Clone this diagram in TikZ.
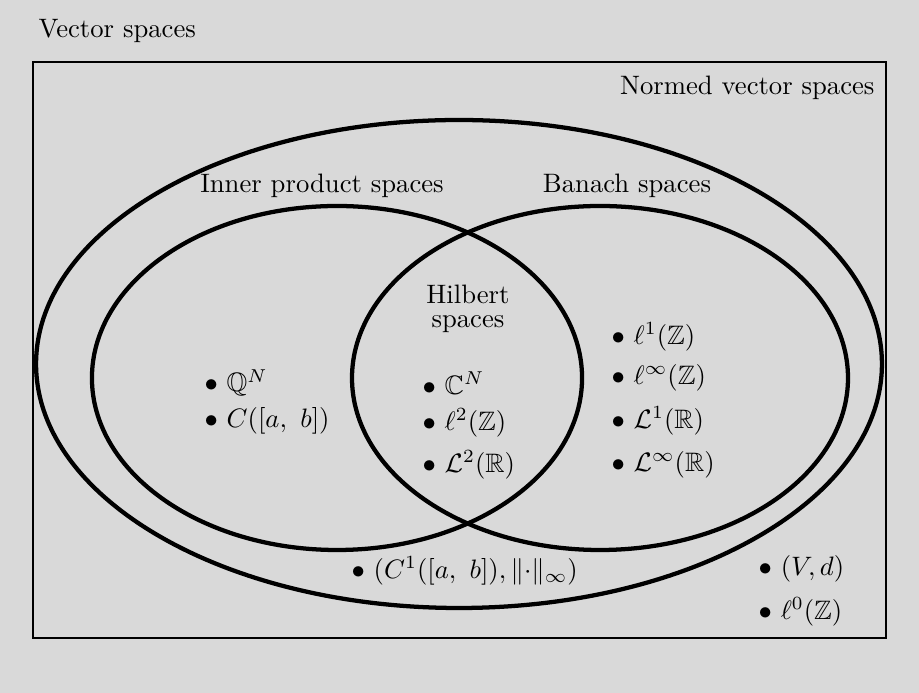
\documentclass[tikz,border=0pt]{standalone}
\usepackage{amssymb}
\definecolor{bggray}{HTML}{D9D9D9}
\begin{document}
\begin{tikzpicture}[x=0.375pt,y=-0.375pt,
  set/.style={line width=1.6pt},
  lab/.style={inner sep=0pt},
  item/.style={anchor=west,inner sep=0pt}]
\fill[bggray] (0,0) rectangle (919,693);
\useasboundingbox (0,0) rectangle (919,693);
% outer rectangle
\draw[line width=0.8pt] (33,62) rectangle (886,638);
% ellipses
\draw[set] (459,364) ellipse [x radius=158.6pt, y radius=91.5pt];
\draw[set] (337,378) ellipse [x radius=91.9pt, y radius=64.5pt];
\draw[set] (600,378) ellipse [x radius=93pt, y radius=64.5pt];
% labels
\node[lab,anchor=west] (vs) at (38,31) {Vector spaces};
\node[lab,anchor=east] (nvs) at (875,88) {Normed vector spaces};
\node[lab] (ips) at (322,186) {Inner product spaces};
\node[lab] (bs) at (627,186) {Banach spaces};
\node[lab,align=center] (hs) at (468,309) {Hilbert\\[-3pt]spaces};
% items
\node[item] (q) at (204,383) {$\bullet\ \mathbb{Q}^N$};
\node[item] (c) at (204,421) {$\bullet\ C([a,\ b])$};
\node[item] (cn) at (422,383) {$\bullet\ \mathbb{C}^N$};
\node[item] (l2) at (422,423) {$\bullet\ \ell^2(\mathbb{Z})$};
\node[item] (L2) at (422,465) {$\bullet\ \mathcal{L}^2(\mathbb{R})$};
\node[item] (l1) at (611,337) {$\bullet\ \ell^1(\mathbb{Z})$};
\node[item] (linf) at (611,378) {$\bullet\ \ell^\infty(\mathbb{Z})$};
\node[item] (L1) at (611,421) {$\bullet\ \mathcal{L}^1(\mathbb{R})$};
\node[item] (Linf) at (611,465) {$\bullet\ \mathcal{L}^\infty(\mathbb{R})$};
\node[item] (c1) at (351,571) {$\bullet\ (C^1([a,\ b]), \|{\cdot}\|_\infty)$};
\node[item] (vd) at (758,569) {$\bullet\ (V, d)$};
\node[item] (l0) at (758,612) {$\bullet\ \ell^0(\mathbb{Z})$};
\end{tikzpicture}
\end{document}
